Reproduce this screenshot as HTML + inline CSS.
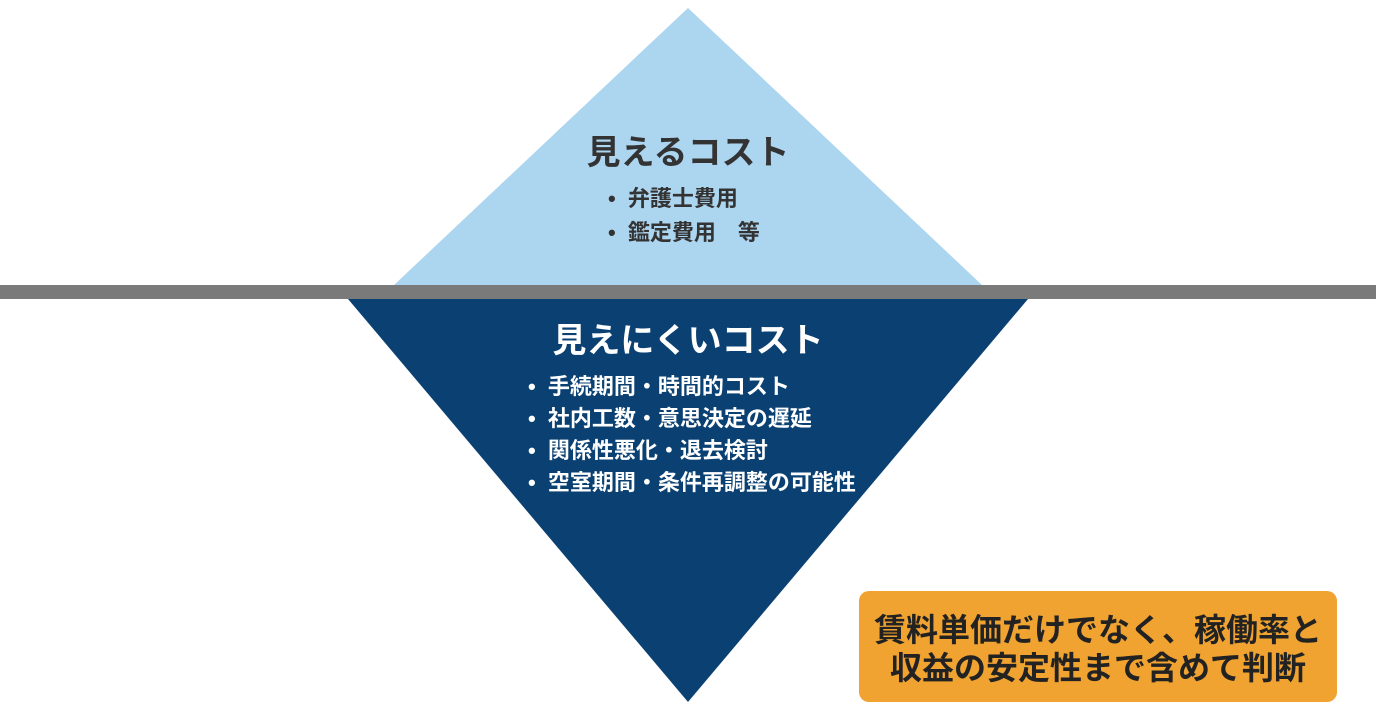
<!DOCTYPE html>
<html><head><meta charset="utf-8"><style>
body{margin:0;width:1376px;height:712px;background:#fff;position:relative;overflow:hidden;font-family:"Liberation Sans","Noto Sans CJK JP",sans-serif;font-weight:bold}
.t{position:absolute;white-space:nowrap}
</style></head><body>
<svg width="1376" height="712" style="position:absolute;left:0;top:0">
<polygon points="688,8 982,285 394,285" fill="#acd5f0"/>
<polygon points="348,299 1028,299 688,702" fill="#0b4172"/>
<rect x="0" y="285" width="1376" height="14" fill="#7a7a7a"/>
<rect x="859" y="591" width="478" height="111" rx="10" fill="#f0a330"/>
</svg>
<div class="t" style="left:0;width:1376px;text-align:center;top:131px;font-size:34px;line-height:44px;color:#333">見えるコスト</div>
<div class="t" style="left:608px;top:182px;font-size:22px;color:#333;line-height:34px">•&nbsp;&nbsp;弁護士費用<br>•&nbsp;&nbsp;鑑定費用　等</div>
<div class="t" style="left:0;width:1376px;text-align:center;top:319px;font-size:34px;line-height:44px;color:#fff">見えにくいコスト</div>
<div class="t" style="left:528px;top:371px;font-size:22px;color:#fff;line-height:32px">•&nbsp;&nbsp;手続期間・時間的コスト<br>•&nbsp;&nbsp;社内工数・意思決定の遅延<br>•&nbsp;&nbsp;関係性悪化・退去検討<br>•&nbsp;&nbsp;空室期間・条件再調整の可能性</div>
<div class="t" style="left:859px;width:478px;text-align:center;top:611px;font-size:32px;color:#222;line-height:38px">賃料単価だけでなく、稼働率と<br>収益の安定性まで含めて判断</div>
</body></html>
